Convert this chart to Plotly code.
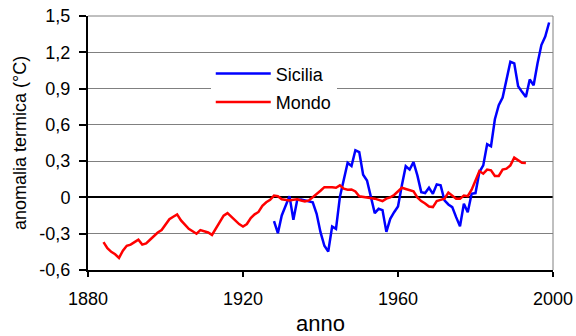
import plotly.graph_objects as go

# Mondo (global) anomaly, 1884-1993
mondo_years = list(range(1884, 1994))
mondo_vals = [
    -0.37, -0.42, -0.45, -0.47, -0.50, -0.44, -0.40, -0.39, -0.37, -0.35,
    -0.39, -0.38, -0.35, -0.32, -0.29, -0.27, -0.22, -0.18, -0.16, -0.14,
    -0.19, -0.23, -0.26, -0.28, -0.30, -0.27, -0.28, -0.29, -0.31, -0.26,
    -0.20, -0.15, -0.13, -0.16, -0.19, -0.22, -0.24, -0.22, -0.17, -0.14,
    -0.12, -0.07, -0.04, -0.02, 0.015, 0.01, -0.015, -0.02, -0.025, -0.02,
    -0.015, -0.025, -0.033, -0.025, 0.0, 0.03, 0.055, 0.085, 0.088, 0.085,
    0.08, 0.10, 0.072, 0.064, 0.066, 0.05, 0.01, 0.005, 0.003, 0.0,
    -0.01, -0.02, -0.03, -0.01, 0.0, 0.02, 0.05, 0.08, 0.07, 0.06,
    0.05, 0.0, -0.03, -0.05, -0.075, -0.08, -0.03, -0.02, -0.01, 0.04,
    0.017, -0.01, -0.01, 0.015, 0.01, 0.064, 0.14, 0.218, 0.196, 0.23,
    0.224, 0.177, 0.177, 0.23, 0.238, 0.265, 0.329, 0.307, 0.287, 0.284,
]

# Sicilia anomaly, 1928-1999
sicilia_years = list(range(1928, 2000))
sicilia_vals = [
    -0.196, -0.296, -0.149, -0.07, 0.011, -0.185, -0.02, -0.017, -0.025, -0.03,
    -0.04, -0.135, -0.287, -0.40, -0.447, -0.24, -0.26, 0.003, 0.133, 0.287,
    0.26, 0.39, 0.375, 0.188, 0.14, 0.017, -0.13, -0.094, -0.105, -0.285,
    -0.177, -0.122, -0.075, 0.10, 0.258, 0.23, 0.292, 0.182, 0.044, 0.036,
    0.08, 0.03, 0.108, 0.10, -0.025, -0.058, -0.08, -0.163, -0.238, -0.052,
    -0.122, 0.03, 0.036, 0.21, 0.265, 0.44, 0.423, 0.646, 0.762, 0.826,
    0.983, 1.121, 1.108, 0.92, 0.873, 0.83, 0.975, 0.928, 1.108, 1.26,
    1.33, 1.446,
]

x_ticks = [1880, 1920, 1960, 2000]
y_ticks = [-0.6, -0.3, 0, 0.3, 0.6, 0.9, 1.2, 1.5]
y_ticktext = ["-0,6", "-0,3", "0", "0,3", "0,6", "0,9", "1,2", "1,5"]

FONT = "Liberation Sans, Arial, sans-serif"

fig = go.Figure()
fig.add_trace(go.Scatter(x=sicilia_years, y=sicilia_vals, mode="lines", name="Sicilia",
                         legendgroup="a",
                         line=dict(color="#0000FF", width=2.5)))
fig.add_trace(go.Scatter(x=mondo_years, y=mondo_vals, mode="lines", name="Mondo",
                         legendgroup="b",
                         line=dict(color="#FF0000", width=2.5)))

fig.update_layout(
    width=576, height=336,
    margin=dict(l=88, r=23, t=16, b=66),
    paper_bgcolor="white", plot_bgcolor="white",
    font=dict(family=FONT, size=18, color="black"),
    showlegend=True,
    legend=dict(x=0.264, y=0.845, xanchor="left", yanchor="top",
                bgcolor="white", borderwidth=0, tracegroupgap=2,
                font=dict(size=18), itemwidth=55),
    xaxis=dict(range=[1880, 2000], tickvals=x_ticks, ticks="outside", ticklen=5,
               tickwidth=2, tickcolor="black", showline=True, linecolor="black",
               linewidth=2, showgrid=False, zeroline=False, automargin=False,
               title=dict(text="anno", standoff=10), ticklabelstandoff=6),
    yaxis=dict(range=[-0.6, 1.5], tickvals=y_ticks, ticktext=y_ticktext,
               ticks="outside", ticklen=7, tickwidth=2, tickcolor="black",
               showline=True, linecolor="black", linewidth=2,
               showgrid=True, gridcolor="#808080", gridwidth=1,
               zeroline=True, zerolinecolor="black", zerolinewidth=2,
               automargin=False,
               title=dict(text="anomalia termica (°C)", standoff=8,
                          font=dict(size=18)),
               ticklabelstandoff=5),
)
# right and top border of plot area
fig.add_shape(type="line", xref="paper", yref="paper", x0=1, x1=1, y0=0, y1=1,
              line=dict(color="#808080", width=1))
fig.add_shape(type="line", xref="paper", yref="paper", x0=0, x1=1, y0=1, y1=1,
              line=dict(color="#808080", width=1))

fig.write_html("out.html")
